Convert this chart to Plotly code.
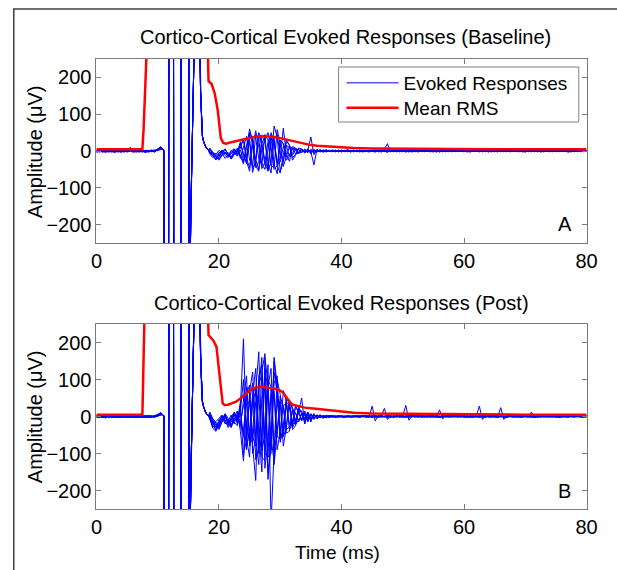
import plotly.graph_objects as go

FONT = "Liberation Sans, Arial, Helvetica, sans-serif"
FS = 20
BLUE = "#0000ff"
RED = "#ff0000"
AXC = "#7a7a7a"

# ---------------- sampling grids (ms) ----------------
t_pre = [round(0.5 * i, 2) for i in range(22)]            # 0 .. 10.5
t_post = [round(18.5 + 0.5 * i, 2) for i in range(124)]   # 18.5 .. 80
artifact_t = [10.8, 11.0, 11.12, 11.74, 11.86, 12.54, 12.66, 13.74, 13.86, 15.04, 15.16,
              15.2, 15.3, 15.45, 15.6, 15.75, 15.9, 16.1, 16.5, 16.85, 17.0, 17.15, 17.3,
              17.5, 17.7, 17.9, 18.1, 18.3]
artifact_uv = [5, 2, -1000, -1000, 1000, 1000, -1000, -1000, 1000, 1000, -1000,
               -600, -300, -130, 10, 140, 260, 400, 480, 320, 160, 75, 40,
               25, 15, 9, 5, 2]

# ---------------- Baseline evoked responses (uV) ----------------
baseline_pre = [
    [-2, 1, -3, 0, 2, -1, -4, 1, 0, -2, 3, 5, -1, -3, 0, 2, -2, 1, -1, 0, 4, 6],
    [1, -2, 0, 3, -1, -3, 1, -2, 2, 0, -1, 10, 2, -1, -3, 0, 1, -2, 0, 3, 2, 9],
    [-4, -1, 2, -2, 0, 1, -3, -1, 3, -2, 0, 2, -4, 1, 2, -1, -3, 0, 2, -1, 5, 11],
    [0, 3, -1, -4, 1, 2, 0, -3, -1, 1, -2, 4, 0, -2, 1, -3, 2, 1, -2, 1, 3, 7],
    [2, -3, 1, 0, -2, 0, 2, 1, -4, 0, 2, -1, 3, 0, -1, 1, -1, -3, 1, 2, 1, 8],
    [-1, 0, -2, 2, 3, -2, -1, 0, 1, -3, 1, 3, -2, 2, 0, -2, 0, 2, -1, -2, 6, 10],
    [-3, 2, 1, -1, -3, 1, 0, 2, -2, 1, -1, 2, 1, -1, 2, 0, -4, -1, 3, 0, 2, 5],
    [1, -1, -2, 1, 0, 2, -2, -1, 1, 2, -3, 0, -1, 3, -2, 1, 1, -1, 0, -3, 4, 12],
]
baseline_post = [
    [-2, -12, -20, -8, 3, -5, -15, -6, 4, -3,
     12, 30, -20, -45, 15, 55, 10, -35, -50, 5,
     38, 20, -40, -60, -10, 30, 15, -18, -10, 6,
     5, -4, 6, -8, 3, -2, 4, -3, 1, -2,
     3, -1, 2, -3, 1, 0, -2, 2, -1, 1,
     -3, 2, 0, -1, 3, -2, 1, 0, -4, 2,
     1, -2, 3, -1, 0, 2, -3, 1, -1, 2,
     -2, 0, 1, -3, 2, 1, -1, 0, 3, -2,
     0, 1, -2, 2, -1, -3, 1, 2, 0, -1,
     2, -1, 0, 3, -2, 1, -1, -2, 2, 0,
     -1, 2, 1, -2, 0, 3, -1, 1, -3, 0,
     2, -1, 1, 0, -2, 2, 1, -3, 0, 1,
     -1, 2, 0, 1],
    [5, -6, -24, -15, -3, 6, -10, -18, -4, 8,
     -15, -35, 10, 60, 25, -40, -55, 5, 30, 50,
     10, -50, -40, 28, 20, -15, -12, 8, 5, -4,
     -3, 4, -2, 2, -5, 3, 0, -2, 3, -1,
     0, 2, -2, 1, -1, 3, 0, -2, 1, -1,
     2, -1, -3, 1, 0, 2, -1, 4, 20, -2,
     1, 0, -2, 3, -1, 1, 0, -2, 2, 1,
     -1, 2, 0, -2, 1, -1, 3, 0, -2, 1,
     2, -1, 1, 0, -3, 2, 0, -1, 1, 2,
     -2, 0, 3, -1, 1, -2, 2, 0, -1, 1,
     0, -2, 2, 1, -1, 0, 2, -2, 1, -1,
     1, 0, -2, 3, -1, 0, 2, -1, -2, 1,
     0, -1, 2, -1],
    [-8, -18, -10, 2, -6, -20, -12, 0, 6, -8,
     20, -10, -35, 45, 20, -25, -50, 40, 30, -30,
     -60, 35, 45, -10, -25, 15, 10, -12, 3, -4,
     6, -3, 2, 38, -10, 3, -1, 2, -3, 1,
     -1, 2, 0, -2, 1, 3, -1, 0, 2, -2,
     1, -1, 2, 0, -3, 1, 2, -1, 0, 3,
     -2, 1, 0, -1, 2, -3, 1, 2, -1, 0,
     3, -1, -2, 1, 0, 2, -2, 1, -1, 0,
     -1, 2, 0, -2, 3, -1, 1, 0, -2, 2,
     1, -3, 2, 0, -1, 1, -2, 3, 0, -1,
     2, 0, -1, -3, 1, 2, -2, 0, 1, -1,
     0, 2, -1, 1, -2, 0, 3, -1, 1, -2,
     1, 0, -2, 1],
    [2, -8, -15, -22, -10, -2, -14, -8, 2, -12,
     8, 35, -28, -55, 40, 35, -20, -38, 45, 30,
     -40, -45, 58, 20, -42, -15, 12, 8, -8, -5,
     4, -6, 3, -2, -38, 5, -3, 2, -1, 0,
     1, -2, 2, 0, -1, 2, -3, 1, 0, 2,
     -1, 0, 2, -2, 1, -1, 3, 0, -2, 1,
     0, 2, -1, 1, -3, 0, 2, -1, 1, -2,
     1, -1, 3, 0, -2, 1, 0, 2, -1, -2,
     2, 0, -1, 1, 2, -2, 0, -1, 3, -1,
     0, 2, -2, 1, -1, 0, 2, -1, -2, 3,
     -1, 1, 0, 2, -2, 1, -1, 3, 0, -2,
     2, -2, 0, 1, -1, 3, -2, 0, 1, 0,
     -2, 1, 1, -1],
    [-6, -3, -16, -25, -12, -4, -9, -20, -5, 2,
     -10, -30, 18, 30, -45, -35, 50, 20, -25, -50,
     20, 35, -35, -30, 12, 15, -15, -6, 7, 3,
     -4, 2, -5, 4, 2, -3, 1, -2, 2, 1,
     -2, 0, 1, -1, 2, -2, 0, 1, -1, 3,
     0, -2, 1, 2, -1, 0, -3, 2, 1, -1,
     2, -1, 1, -2, 0, 1, 3, -2, 0, 1,
     -1, 2, -2, 0, 1, -3, 1, 0, 2, -1,
     1, -2, 2, 0, -1, 1, -1, 3, -2, 0,
     -1, 1, 0, -2, 2, 0, 1, -1, 2, -2,
     1, 2, -2, 0, -1, 1, 0, -2, 3, 1,
     -1, 0, 1, -2, 2, -1, 0, 2, -1, -1,
     2, 0, -1, 1],
    [8, -4, -12, -18, -6, 4, -8, -22, -10, -2,
     25, -15, -30, 50, 30, -45, -28, 20, 40, -55,
     -30, 68, 38, -55, -30, 25, 18, -25, -12, 8,
     5, -2, 3, -5, 4, -1, 2, -3, 0, 2,
     -1, 1, -2, 2, 0, -1, 1, 2, -2, 0,
     1, 2, -1, 0, -2, 3, 0, -1, 1, -2,
     0, -1, 2, 1, -2, 0, -1, 3, -2, 1,
     2, 0, -1, 1, -3, 2, 0, -2, 1, 0,
     -2, 1, 3, -1, 0, -1, 2, 0, -1, 1,
     1, -1, -2, 2, 0, 3, -1, 1, -2, 0,
     0, -2, 1, -1, 2, -1, 0, 1, -2, 2,
     -1, 1, 2, -2, 0, 1, -1, -2, 2, 0,
     1, -2, 0, 2],
    [0, -10, -6, -14, 2, -8, -4, -16, -2, 5,
     -20, 10, 40, -25, -40, 45, 35, -48, -30, 25,
     45, -35, -62, 30, 20, -25, -15, 12, 8, -5,
     -3, 5, -2, 1, -3, 2, -2, 1, 3, -1,
     2, -1, 0, 1, -2, 0, 2, -1, 1, -3,
     2, 0, 1, -1, 2, -2, 1, 0, 3, 0,
     -1, 2, -2, 0, 1, -1, 2, 1, -3, 2,
     0, -1, 1, 2, -2, 0, 1, -1, 0, 3,
     -1, 0, 2, -2, 1, 3, -1, 0, 1, -2,
     2, 0, -1, 1, -2, 2, 0, -1, 1, 1,
     -2, 1, 0, 2, -1, -2, 1, 0, -1, 2,
     0, -2, 3, 0, 1, -1, 2, 0, -2, 1,
     -1, 1, 2, 0],
    [-4, -14, -24, -4, -2, -12, -18, 2, -6, -14,
     2, -25, -10, 25, -58, -20, 48, 15, -38, -52,
     50, 25, -30, -20, 62, -10, -28, 8, 3, -8,
     2, -1, 4, -3, 1, 0, -2, 3, -1, 1,
     0, -2, 1, 2, -1, 1, 0, -2, 2, -1,
     -2, 1, 0, 2, -1, -1, 2, 0, -1, 1,
     3, -2, 1, 0, -1, 2, -2, 0, 1, -1,
     0, 1, -1, 2, 0, -2, 3, -1, 0, 2,
     1, -1, 0, -2, 2, 0, -1, 1, 2, -2,
     0, 1, 2, -1, -2, 1, 0, 2, -1, 0,
     2, -1, -2, 1, 0, 2, -1, 1, 0, -2,
     1, 0, -1, 2, -1, 1, 0, -2, 2, 0,
     -1, 2, -1, 0],
]

# ---------------- Post evoked responses (uV) ----------------
post_pre = [
    [-1, 2, -3, 0, 1, -2, 3, -1, -2, 1, 0, -3, 2, 1, -1, 0, -2, 2, 1, -1, 3, 6],
    [2, -1, 0, -4, 2, 1, -2, 0, 3, -1, -2, 1, 0, -3, 2, 1, -1, -2, 0, 2, 5, 9],
    [-3, 0, 1, 2, -2, 0, -1, 3, -2, 0, 1, 2, -3, 0, 1, -2, 2, 0, -3, 1, 2, 7],
    [0, -2, 2, -1, 3, -3, 0, 1, -1, 2, -2, 0, 1, -1, -3, 2, 0, 1, 2, -2, 4, 10],
    [1, 3, -1, -2, 0, 2, -3, -2, 1, 0, 3, -1, -2, 2, 0, -1, 3, -2, 0, 1, 1, 5],
    [-2, 0, 1, 3, -1, -1, 2, 0, -3, 2, -1, 2, 0, -2, 3, 0, -1, 1, -2, 0, 6, 11],
    [3, -1, -2, 1, 0, 2, -1, -3, 0, 1, 2, -2, 1, 0, -2, 3, 1, -3, 2, -1, 2, 8],
    [0, 1, -1, -3, 2, 0, 1, 2, -2, -1, 0, 3, -1, 2, 0, -3, 1, 0, -1, 2, 3, 6],
    [-1, -2, 3, 0, -2, 1, 0, -1, 2, -3, 1, 0, 2, -1, 1, -2, 0, 3, -1, 0, 5, 9],
    [2, 0, -2, 1, -1, 3, -2, 1, 0, -2, -1, 1, 3, -2, 0, 2, -3, 0, 1, -2, 2, 4],
]
post_post = [
    [3, -18, -30, -12, 2, -15, -25, -5, 10, -20,
     25, 210, -60, -110, 60, 80, -45, -150, 160, 90,
     -90, 120, 70, -60, -50, 40, 30, -35, -25, 15,
     12, -8, 10, -6, 5, -4, 3, -5, 2, -1,
     3, -2, 1, 0, -2, 2, -1, 1, 0, -2,
     1, 0, -2, 28, -12, 2, -1, 0, 2, -1,
     0, 2, -1, 1, -2, 0, 3, -1, 1, 0,
     -2, 1, 0, 2, -1, -1, 2, 0, -2, 1,
     1, -1, 2, 0, -2, 1, 0, -1, 2, 0,
     -1, 2, 0, -2, 1, 0, -1, 2, 1, -2,
     0, 1, -2, 2, 0, -1, 1, 0, -2, 1,
     2, -1, 0, 1, -2, 0, 1, 2, -1, 0,
     1, -2, 0, 1],
    [-5, -32, -40, -20, -8, 5, -18, -30, 0, 15,
     -40, -120, 80, 60, -80, -173, 90, 110, -60, 140,
     -290, -70, 100, 60, -55, -30, 45, 25, -20, 18,
     -12, 10, -15, 8, -6, 5, -3, 2, -4, 3,
     -1, 2, -2, 1, 0, -1, 2, 0, -1, 1,
     2, -1, 0, 1, -2, 1, 0, 22, -8, 1,
     -1, 0, 2, -2, 1, -1, 0, 2, -1, 1,
     0, -2, 1, 0, 2, -1, -1, 1, 0, -2,
     2, 0, -1, 1, -2, 2, 0, -1, 1, 0,
     -2, 1, 2, 0, -1, 1, -2, 0, 2, -1,
     1, 0, -1, 2, -1, 0, 2, -2, 1, 0,
     -1, 2, 0, -2, 1, 1, -1, 0, 2, -1,
     0, 1, -1, 2],
    [8, -10, -22, -35, -15, 0, -10, -28, -8, 6,
     -25, 45, 110, -80, -40, 70, 175, -110, -120, 80,
     130, -90, -50, 40, 30, -45, -40, 20, 10, -15,
     8, -12, 6, -10, 4, -5, 3, -2, 2, -3,
     1, 0, -2, 2, -1, 1, 0, -2, 1, 2,
     -1, 1, 0, -2, 2, 0, -1, 1, 3, -2,
     1, -1, 0, 2, 30, -10, 1, 0, -2, 1,
     2, 0, -1, 1, 0, -2, 2, -1, 0, 1,
     -1, 2, 0, -2, 1, 0, 2, -1, -2, 1,
     0, -1, 2, 1, -2, 0, 1, -1, 0, 2,
     -1, 2, 0, -1, 1, -2, 0, 2, -1, 0,
     1, -1, 2, 0, -2, 1, 0, -1, 1, 2,
     -1, 0, 2, -1],
    [-2, -20, -14, -5, 4, -12, -20, -2, 12, -15,
     30, -110, -30, 45, 90, -117, -90, 120, 170, -152,
     -72, 160, 85, -60, -40, 50, 35, -30, -12, 20,
     15, -20, 8, -5, 6, -2, 4, -3, 1, 2,
     -2, 1, 0, -1, 2, 0, -2, 1, -1, 0,
     1, -2, 2, 0, -1, 1, 2, -1, 0, -2,
     0, 1, -2, 1, 0, 2, -1, 0, 1, -1,
     1, -1, 0, 2, -2, 18, -6, 1, 0, -1,
     0, 2, -1, 0, 1, -2, 1, 0, -1, 2,
     1, 0, -2, 1, 2, -1, 0, -2, 1, 0,
     -2, 1, 1, 0, -1, 2, -1, 0, 2, -1,
     0, 2, -1, 1, 0, -2, 1, -1, 0, 2,
     -1, 1, 0, -2],
    [12, -6, -18, -28, -10, 8, -5, -22, -12, 3,
     -18, 30, 50, -60, -70, 40, 60, -90, -50, 100,
     80, -130, -40, 55, 25, -35, -28, 15, 8, -10,
     -6, 4, -8, 5, -3, 2, -4, 3, -1, 1,
     2, -1, 0, 1, -2, 1, -1, 2, 0, -1,
     0, 1, -1, 2, 0, -2, 1, 0, -1, 2,
     -2, 1, 0, -1, 2, 1, -1, 0, 2, -2,
     1, 0, 2, -1, 0, 1, -2, 1, 0, 2,
     -1, 0, 1, 2, -1, 0, -2, 1, 28, -8,
     2, -1, 0, 1, -2, 1, 0, 2, -1, 0,
     1, -2, 0, 1, 2, -1, 0, -1, 1, 2,
     -2, 0, 1, -1, 2, 0, -1, 1, 0, -1,
     2, -1, 0, 1],
    [0, -25, -35, -8, -2, -20, -12, 4, -16, -25,
     10, -50, -90, 70, 120, -60, -130, 50, 90, -110,
     -100, 150, 60, -45, -50, 30, 25, -15, -8, 12,
     50, -20, 12, -15, 8, -6, 5, -4, 3, -2,
     1, -1, 2, 0, -2, 1, 0, -1, 2, 0,
     -1, 2, 0, -2, 1, 0, 2, -1, 1, 0,
     2, -1, 1, 0, -2, 1, 0, 2, -1, 0,
     -1, 1, 0, -2, 2, 0, 1, -1, 2, 0,
     1, -2, 0, 1, -1, 2, 0, -1, 1, -2,
     0, 2, -1, 1, 0, 24, -8, 1, 0, 1,
     -1, 0, 2, -1, 1, 0, -2, 1, 0, 2,
     1, -1, 0, 2, -1, 0, 2, -2, 1, 0,
     0, 2, -1, 0],
    [5, -12, -28, -18, 0, -8, -30, -15, 5, -10,
     15, 100, -80, -40, 60, 130, -90, -60, 110, -170,
     -80, 90, 110, -70, -25, 45, 40, -20, -15, 25,
     10, -6, 4, -8, 3, -3, 2, -1, 3, -2,
     0, 1, -1, 2, 0, -2, 1, 0, -1, 1,
     2, 0, -1, 1, -2, 2, 0, -1, 0, 1,
     -1, 2, 0, -2, 1, 0, -1, 1, 2, -1,
     0, 1, -2, 0, 2, -1, 1, 0, -1, 2,
     1, 0, 2, -1, 0, -2, 1, 2, -1, 0,
     -2, 1, 0, 2, -1, 1, 0, -1, 2, 0,
     1, 2, -1, 0, -2, 12, -3, 0, 1, -1,
     0, 1, 2, -2, 0, 1, -1, 0, 2, -1,
     1, 0, -2, 1],
    [-8, -28, -20, -32, -14, -2, -16, -6, -20, 10,
     -30, -40, 60, 85, -100, -60, 70, 160, -140, -70,
     60, 60, -90, -40, 30, 35, -20, -25, 30, 12,
     -10, 15, -5, 6, -4, 3, -2, 1, -2, 0,
     2, -1, 1, 0, -2, 1, -1, 2, 0, -1,
     1, -2, 0, 1, 2, -1, 0, 1, -2, 0,
     1, 0, -1, 2, -2, 0, 1, -1, 0, 2,
     -1, 2, 0, 1, -1, -2, 1, 0, 2, -1,
     0, 1, -1, 0, 2, -1, 0, 1, -2, 1,
     2, -1, 1, 0, -1, 2, -2, 0, 1, -1,
     0, 1, -2, 1, 0, -1, 2, 0, -1, 1,
     -1, 0, 1, 2, -2, 0, 1, -1, 0, 1,
     2, -1, 0, -1],
    [2, -8, -16, -24, -6, 6, -14, -24, -4, -12,
     40, 60, -20, -70, 40, 70, -100, -50, 130, 70,
     -60, -120, 50, 35, -80, -30, 45, 18, -22, -10,
     6, -10, 12, -4, 5, -6, 2, -1, 0, 2,
     -1, 0, 2, -2, 1, 0, -1, 1, 2, -1,
     0, 2, -1, 0, 1, -2, 1, 0, -1, 2,
     -2, 0, 1, 2, -1, 0, 2, -1, 1, 0,
     1, -1, 2, 0, -2, 1, 0, 2, -1, 0,
     -1, 2, 0, -1, 1, 0, -2, 1, 0, 2,
     1, 0, -1, 2, 0, -1, 1, -2, 0, 1,
     2, -1, 0, 1, -1, 0, -2, 2, 0, -1,
     1, 0, -2, 1, 2, -1, 0, 1, -1, 0,
     -1, 2, 1, 0],
    [-3, -15, -38, -25, -8, 2, -22, -10, 8, -5,
     -12, -50, 35, 40, -55, -80, 110, 140, -100, -110,
     75, 70, -55, -60, 70, 40, -35, -18, 28, 10,
     -8, 8, -12, 6, -8, 4, -3, 2, -2, 1,
     0, -2, 1, 1, -1, 2, 0, -1, 1, -2,
     1, 0, 2, -1, 0, 1, -2, 0, 2, 1,
     0, -1, 2, 0, 1, -2, 0, 1, -1, 2,
     -1, 0, 1, -1, 2, 0, -2, 1, 1, 0,
     2, -1, 0, 1, -2, 1, 0, -1, 2, 0,
     -1, 1, 2, -2, 0, 1, -1, 0, 1, 2,
     0, -2, 1, 0, 2, -1, 1, -1, 0, 1,
     2, -1, 0, -1, 1, 2, -2, 0, 1, -1,
     0, 1, -1, 2],
]

# ---------------- Mean RMS (uV) ----------------
rms_base_t = [0, 2, 4, 6, 7.5, 7.7, 7.9, 8.2, 8.5, 18.0, 18.2, 18.3, 18.8, 19.3, 19.8, 20.1,
              20.3, 20.7, 21.2, 22, 23, 24, 25, 26, 27, 28, 29, 30, 31, 32, 33, 34, 35, 36,
              37, 38, 40, 42, 45, 50, 55, 60, 65, 70, 75, 80]
rms_base_uv = [5, 5, 5, 5, 5, 60, 170, 260, 400, 400, 250, 190, 182, 157, 111, 66,
               35, 22, 20, 24, 28, 32, 36, 39, 41, 40, 38, 35, 31, 27, 23, 19, 16, 14,
               13, 12, 9, 8, 7, 6, 6, 5, 5, 5, 5, 5]
rms_post_t = [0, 2, 4, 6, 7.5, 7.6, 7.8, 8.0, 18.0, 18.2, 18.3, 19.1, 19.6, 20.0, 20.3, 20.6,
              20.9, 21.5, 22.8, 24, 25.4, 27, 28, 29, 30, 30.5, 31, 31.5, 32, 33, 34, 35, 36,
              37, 38, 40, 42, 45, 50, 55, 60, 65, 70, 75, 80]
rms_post_uv = [5, 5, 5, 5, 5, 80, 260, 400, 400, 260, 220, 205, 188, 126, 72, 36,
               31, 32, 40, 55, 76, 81, 78, 76, 70, 64, 52, 40, 32, 27, 24, 22, 20,
               18, 16, 12, 10, 8, 7, 6, 6, 6, 5, 5, 5]

for arr in baseline_pre + post_pre:
    assert len(arr) == len(t_pre), len(arr)
for arr in baseline_post + post_post:
    assert len(arr) == len(t_post), len(arr)
assert len(artifact_t) == len(artifact_uv)
assert len(rms_base_t) == len(rms_base_uv)
assert len(rms_post_t) == len(rms_post_uv)

x_all = t_pre + artifact_t + t_post

fig = go.Figure()
first = True
for pre, post in zip(baseline_pre, baseline_post):
    fig.add_trace(go.Scatter(x=x_all, y=pre + artifact_uv + post, mode="lines",
                             line=dict(color=BLUE, width=1), name="Evoked Responses",
                             legend="legend", legendgroup="ev", showlegend=first,
                             xaxis="x", yaxis="y"))
    first = False
fig.add_trace(go.Scatter(x=rms_base_t, y=rms_base_uv, mode="lines",
                         line=dict(color=RED, width=2.5), name="Mean RMS",
                         legend="legend2", legendgroup="rms", showlegend=True,
                         xaxis="x", yaxis="y"))
for pre, post in zip(post_pre, post_post):
    fig.add_trace(go.Scatter(x=x_all, y=pre + artifact_uv + post, mode="lines",
                             line=dict(color=BLUE, width=1), name="Evoked Responses",
                             legendgroup="ev", showlegend=False, xaxis="x2", yaxis="y2"))
fig.add_trace(go.Scatter(x=rms_post_t, y=rms_post_uv, mode="lines",
                         line=dict(color=RED, width=2.5), name="Mean RMS",
                         legendgroup="rms", showlegend=False, xaxis="x2", yaxis="y2"))

W, H = 617, 570
def px_x(p): return p / W
def px_y(p): return 1 - p / H

ax_common = dict(showline=True, linecolor=AXC, linewidth=1, mirror="ticks",
                 ticks="inside", ticklen=5, tickcolor=AXC, tickwidth=1,
                 showgrid=False, zeroline=False,
                 tickfont=dict(family=FONT, size=FS, color="black"))
xdom = [px_x(93), px_x(597)]
leg_common = dict(xanchor="left", yanchor="middle", bgcolor="rgba(0,0,0,0)", borderwidth=0,
                  font=dict(family=FONT, size=19, color="black"), itemwidth=52)
fig.update_layout(
    width=W, height=H, autosize=False,
    margin=dict(l=0, r=0, t=0, b=0),
    paper_bgcolor="white", plot_bgcolor="white",
    font=dict(family=FONT, size=FS, color="black"),
    xaxis=dict(domain=xdom, anchor="y", range=[0, 80], tickvals=[0, 20, 40, 60, 80], **ax_common),
    yaxis=dict(domain=[px_y(243), px_y(59)], anchor="x", range=[-250, 250],
               tickvals=[-200, -100, 0, 100, 200], **ax_common),
    xaxis2=dict(domain=xdom, anchor="y2", range=[0, 80], tickvals=[0, 20, 40, 60, 80], **ax_common),
    yaxis2=dict(domain=[px_y(509), px_y(324)], anchor="x2", range=[-250, 250],
                tickvals=[-200, -100, 0, 100, 200], **ax_common),
    showlegend=True,
    legend=dict(x=px_x(345), y=px_y(83), **leg_common),
    legend2=dict(x=px_x(345), y=px_y(108), **leg_common),
)

# legend box
fig.add_shape(type="rect", xref="paper", yref="paper",
              x0=px_x(342), x1=px_x(589), y0=px_y(122), y1=px_y(67),
              line=dict(color="#808080", width=1), fillcolor="white", layer="above")

ann = [
    dict(text="Cortico-Cortical Evoked Responses (Baseline)", x=px_x(349), y=px_y(37), size=20),
    dict(text="Cortico-Cortical Evoked Responses (Post)", x=px_x(345), y=px_y(303), size=20),
    dict(text="Amplitude (\u03bcV)", x=px_x(30), y=px_y(152), textangle=-90, size=20),
    dict(text="Amplitude (\u03bcV)", x=px_x(30), y=px_y(417), textangle=-90, size=20),
    dict(text="Time (ms)", x=px_x(341), y=px_y(552), size=19),
    dict(text="A", x=px_x(575), y=px_y(224), size=20),
    dict(text="B", x=px_x(574), y=px_y(491), size=20),
]
for a in ann:
    size = a.pop("size")
    fig.add_annotation(xref="paper", yref="paper", xanchor="center", yanchor="middle",
                       showarrow=False, font=dict(family=FONT, size=size, color="black"), **a)

# figure frame: only its top and left edges fall inside the picture
fig.add_shape(type="rect", xref="paper", yref="paper",
              x0=px_x(8), x1=px_x(650), y0=px_y(600), y1=px_y(9),
              line=dict(color="#404040", width=1.5), fillcolor="rgba(0,0,0,0)", layer="above")

# remove the default page margin so the 617x570 figure fills the window exactly
page_js = ("document.body.style.margin='0';document.body.style.padding='0';"
           "document.documentElement.style.overflow='hidden';"
           "document.body.style.overflow='hidden';")

fig.write_html("out.html", post_script=page_js,
               config={"displayModeBar": False, "responsive": False})
